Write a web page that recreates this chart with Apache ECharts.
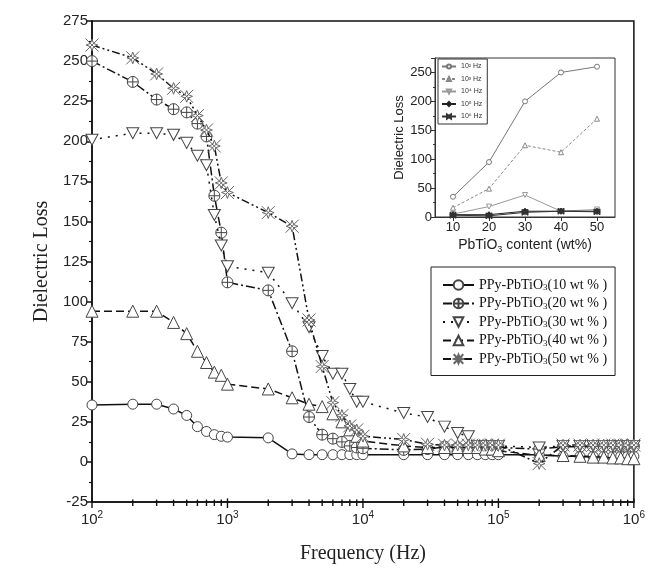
<!DOCTYPE html>
<html><head><meta charset="utf-8">
<script src="https://cdn.jsdelivr.net/npm/echarts@6/dist/echarts.min.js"></script>
<style>html,body{margin:0;padding:0;background:#fff}#c{width:648px;height:577px}</style>
</head><body><div id="c"></div>
<script>
// ---- main chart data ----
const freq = [100,200,300,400,500,600,700,800,900,1000,2000,3000,4000,5000,6000,7000,8000,9000,10000,20000,30000,40000,50000,60000,70000,80000,90000,100000,200000,300000,400000,500000,600000,700000,800000,900000,1000000];
const loss10 = [35.5,36,36,33,29,22,19,17,16,15.5,15,5,4.5,4.5,4.5,4.5,4.5,4.5,4.5,4.5,4.5,4.5,4.5,4.5,4.5,4.5,4.5,4.5,4.5,3.5,3.5,3.5,3.5,3.5,3.5,3.5,3.5];
const loss20 = [250,237,226,220,218,211,203,166,143,112,107,69,28,17,14.5,12.5,10,9,8.5,7.5,8,9.5,9,9,9,9,9,9,8,9.5,9.5,9.5,9.5,9.5,9.5,9.5,9.5];
const loss30 = [201,205,205,204,199,191,185,154,135,122,118,99,84,66,55,55,45.5,37.5,37.5,30.5,28,22,18,16,10,10,10,10,9,10,10,10,10,10,10,10,10];
const loss40 = [94,94,94,87,80,69,62,56,54,48.5,45.5,40,36,34.5,30,25,20,16,13,10,9,9,9,9,9,8,8,7,4,4,3.5,3,3,2.5,2.5,2,2];
const loss50 = [260,252,242,233,228,216,207,197,174,168,155.5,147,88.5,59.5,37,29,22.5,20,16,14,11,10.5,10.5,10.5,10.5,10.5,10.5,10.5,-1,10.5,10.5,10.5,10.5,10.5,10.5,10.5,10.5];
const seriesNames = ['PPy-PbTiO3(10 wt % )','PPy-PbTiO3(20 wt % )','PPy-PbTiO3(30 wt % )','PPy-PbTiO3(40 wt % )','PPy-PbTiO3(50 wt % )'];
const xMajorTicks = [100,1000,10000,100000,1000000];
const xAllTicks = [100,200,300,400,500,600,700,800,900,1000,2000,3000,4000,5000,6000,7000,8000,9000,10000,20000,30000,40000,50000,60000,70000,80000,90000,100000,200000,300000,400000,500000,600000,700000,800000,900000,1000000];
const yAxisMin = -25;

// ---- inset data ----
const insetX = [10,20,30,40,50];
const in1e2 = [35,95,200,250,260];
const in1e3 = [16,49,124,112,170];
const in1e4 = [5,18,38,10,13];
const in1e5 = [4,4,10,10,10];
const in1e6 = [3,2,8,10,9];
const insetNames = ['10\u00B2 Hz','10\u00B3 Hz','10\u2074 Hz','10\u2075 Hz','10\u2076 Hz'];

const SERIF = '"Liberation Serif","Times New Roman",serif';
const SANS = '"Liberation Sans",Arial,sans-serif';

const symCrossCircle = 'path://M0,10A10,10,0,1,1,20,10A10,10,0,1,1,0,10ZM10,0L10,20M0,10L20,10';
const symTriDown = 'path://M0,0L20,0L10,17Z';
const symStar = 'path://M0,0L20,20M20,0L0,20M10,1L12.5,7.5L19,10L12.5,12.5L10,19L7.5,12.5L1,10L7.5,7.5Z';
const symBowtie = 'path://M0,0L10,7L20,0L20,20L10,13L0,20ZM10,0L10,20';

function pairs(xs, ys){ return xs.map((x,i)=>[x, ys[i]]); }

const mainStyles = [
  {sym:'circle', size:10, dash:'solid', edge:'#444'},
  {sym:symCrossCircle, size:11, dash:[9,3,2,3], edge:'#444'},
  {sym:symTriDown, size:[12,11], dash:[2,6], edge:'#444'},
  {sym:'triangle', size:12, dash:[8,4], edge:'#444'},
  {sym:symStar, size:13, dash:[8,3,2,3,2,3], edge:'#666'}
];
const mainData = [loss10, loss20, loss30, loss40, loss50];

const mainSeries = mainData.map((d,i)=>({
  name: seriesNames[i], type:'line', xAxisIndex:0, yAxisIndex:0,
  data: pairs(freq, d),
  symbol: mainStyles[i].sym, symbolSize: mainStyles[i].size, showAllSymbol:true,
  lineStyle:{color:'#111', width:1.5, type: mainStyles[i].dash},
  itemStyle:{color:'#fff', borderColor:mainStyles[i].edge, borderWidth:1},
  emphasis:{disabled:true}, animation:false, z: 2 + i
}));

// x-axis tick marks drawn through the axis scale (major longer, minor shorter)
const tickSeries = {
  type:'custom', xAxisIndex:0, yAxisIndex:0, clip:false, silent:true, z:20, zlevel:1, animation:false,
  data: xAllTicks.map(v => [v, yAxisMin]),
  renderItem: (params, api) => {
    const v = api.value(0);
    const p = api.coord([v, api.value(1)]);
    const len = xMajorTicks.indexOf(v) >= 0 ? 6 : 4;
    return {type:'line', shape:{x1:p[0], y1:p[1] - len * 0.6, x2:p[0], y2:p[1] + len}, style:{stroke:'#111', lineWidth:1.4}};
  }
};

const insetStyles = [
  {sym:'circle', size:5, color:'#777', dash:'solid', fill:'#fff'},
  {sym:'triangle', size:5, color:'#888', dash:[3,2], fill:'#fff'},
  {sym:symTriDown, size:5, color:'#999', dash:'solid', fill:'#fff'},
  {sym:'diamond', size:6, color:'#222', dash:'solid', fill:'#222'},
  {sym:symBowtie, size:6, color:'#333', dash:'solid', fill:'#333'}
];
const insetData = [in1e2, in1e3, in1e4, in1e5, in1e6];
const insetSeries = insetData.map((d,i)=>({
  name: insetNames[i], type:'line', xAxisIndex:1, yAxisIndex:1,
  data: pairs(insetX, d),
  symbol: insetStyles[i].sym, symbolSize: insetStyles[i].size,
  lineStyle:{color:insetStyles[i].color, width:1, type:insetStyles[i].dash},
  itemStyle:{color:insetStyles[i].fill, borderColor:insetStyles[i].color, borderWidth:1},
  emphasis:{disabled:true}, animation:false
}));

const chart = echarts.init(document.getElementById('c'), null, {renderer:'canvas'});
chart.setOption({
  backgroundColor:'#fff',
  animation:false,
  grid:[
    {left:92, right:10, top:21, bottom:75, show:true, borderColor:'#111', borderWidth:1.5, backgroundColor:'transparent'},
    {left:435, right:33, top:58, bottom:360, show:true, borderColor:'#333', borderWidth:1, backgroundColor:'transparent'}
  ],
  legend:[
    {
      data: seriesNames, orient:'vertical', left:431, top:267,
      padding:[11,8,9,11], itemGap:4, itemWidth:31, itemHeight:12,
      borderColor:'#222', borderWidth:1, selectedMode:false, backgroundColor:'#fff',
      formatter: n => '{a|PPy-PbTiO}{s|3}{a|' + n.slice(10) + '}',
      textStyle:{ color:'#111', fontFamily:SERIF, fontSize:14,
        rich:{ a:{fontFamily:SERIF, fontSize:14, color:'#111', lineHeight:15}, s:{fontFamily:SERIF, fontSize:9, color:'#111', verticalAlign:'bottom', lineHeight:10} } }
    },
    {
      data: insetNames, orient:'vertical', left:438, top:59,
      padding:[4,5,4,3], itemGap:5.5, itemWidth:14, itemHeight:5,
      borderColor:'#333', borderWidth:1, selectedMode:false, backgroundColor:'#fff',
      textStyle:{color:'#333', fontFamily:SANS, fontSize:7}
    }
  ],
  xAxis:[
    {
      type:'log', logBase:10, gridIndex:0, min:100, max:1000000, position:'bottom',
      name:'Frequency (Hz)', nameLocation:'middle', nameGap:42,
      nameTextStyle:{fontFamily:SERIF, fontSize:20, color:'#222'},
      axisLine:{show:true, onZero:false, lineStyle:{color:'#111', width:1.5}},
      axisTick:{show:false},
      axisLabel:{margin:8, customValues: xMajorTicks, formatter: v => '{b|10}{p|' + Math.round(Math.log10(v)) + '}',
        rich:{ b:{fontFamily:SANS, fontSize:15, color:'#222', lineHeight:20}, p:{fontFamily:SANS, fontSize:10, color:'#222', verticalAlign:'top', lineHeight:12} } },
      splitLine:{show:false}, minorTick:{show:false}
    },
    {
      type:'value', gridIndex:1, min:5, max:55,
      name:'{a|PbTiO}{s|3}{a| content (wt%)}', nameLocation:'middle', nameGap:20,
      nameTextStyle:{rich:{ a:{fontFamily:SANS, fontSize:14, color:'#222', lineHeight:17}, s:{fontFamily:SANS, fontSize:9, color:'#222', verticalAlign:'bottom', lineHeight:10} }},
      axisLine:{show:true, onZero:false, lineStyle:{color:'#333', width:1}},
      axisTick:{show:true, inside:false, length:4, customValues: insetX, lineStyle:{color:'#333'}},
      axisLabel:{show:true, customValues: insetX, margin:4, fontFamily:SANS, fontSize:13, color:'#222'},
      splitLine:{show:false}
    }
  ],
  yAxis:[
    {
      type:'value', gridIndex:0, min:yAxisMin, max:275, interval:25,
      name:'Dielectric Loss', nameLocation:'middle', nameGap:38,
      nameTextStyle:{fontFamily:SERIF, fontSize:20, color:'#222'},
      axisLine:{show:true, onZero:false, lineStyle:{color:'#111', width:1.5}},
      axisTick:{show:true, inside:false, length:6, lineStyle:{color:'#111', width:1.5}},
      minorTick:{show:true, splitNumber:2, length:3, lineStyle:{color:'#111', width:1.2}},
      axisLabel:{margin:4, fontFamily:SANS, fontSize:15, color:'#222'},
      splitLine:{show:false}
    },
    {
      type:'value', gridIndex:1, min:0, max:275, interval:50,
      name:'Dielectric Loss', nameLocation:'middle', nameGap:28,
      nameTextStyle:{fontFamily:SANS, fontSize:13, color:'#222'},
      axisLine:{show:true, onZero:false, lineStyle:{color:'#333', width:1}},
      axisTick:{show:true, inside:false, length:4, lineStyle:{color:'#333'}},
      minorTick:{show:true, splitNumber:2, length:2, lineStyle:{color:'#333'}},
      axisLabel:{margin:3, fontFamily:SANS, fontSize:13, color:'#222', showMaxLabel:false},
      splitLine:{show:false}
    }
  ],
  series: mainSeries.concat(insetSeries, [tickSeries])
});
</script>
</body></html>
